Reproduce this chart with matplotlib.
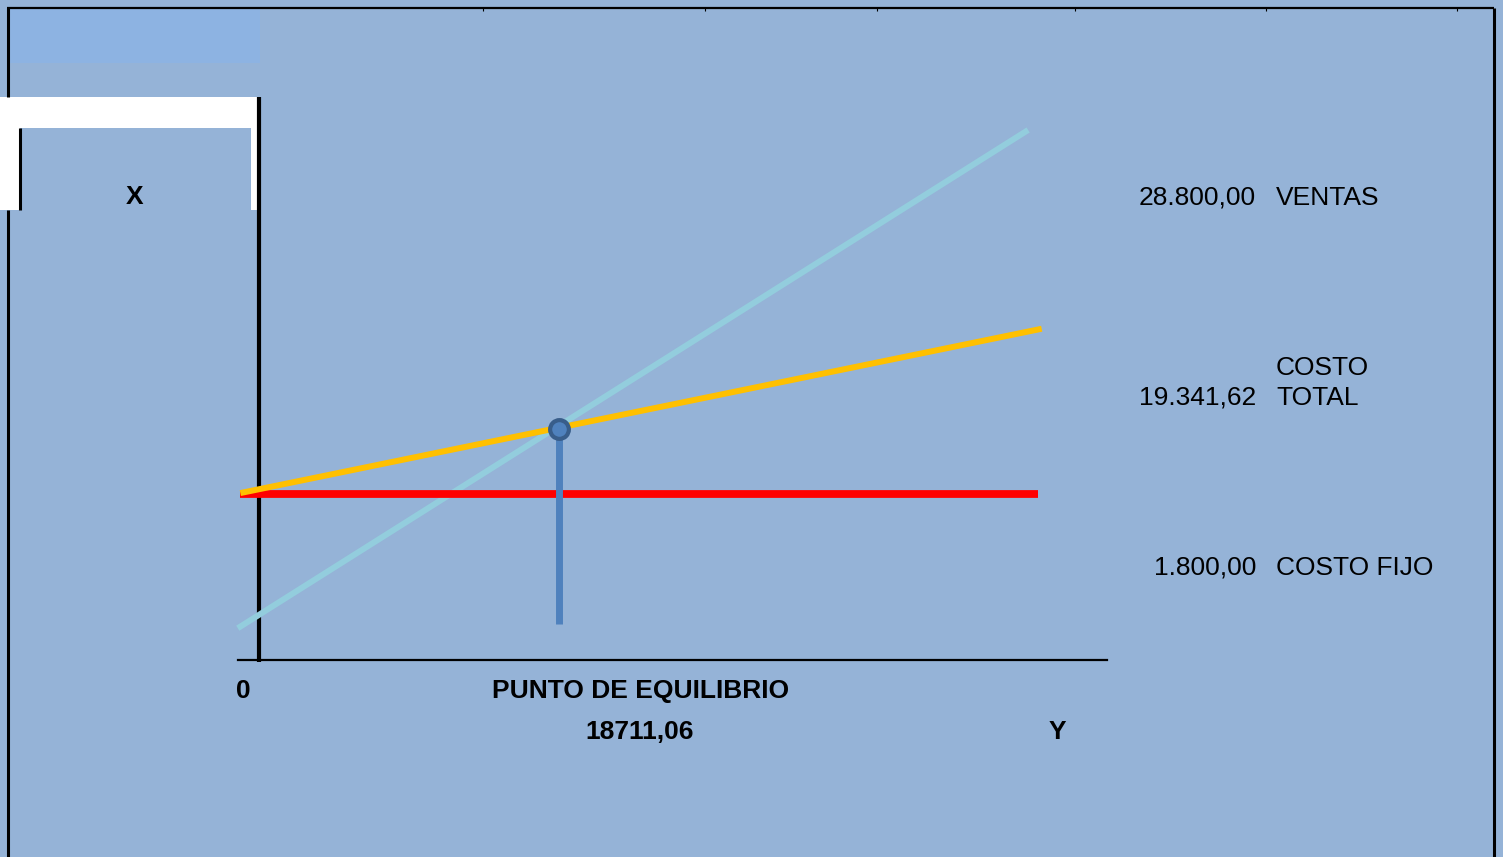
import matplotlib
matplotlib.use("Agg")
import matplotlib.pyplot as plt
from matplotlib.patches import Rectangle
from matplotlib.lines import Line2D

W, H = 1503, 857

# lines of the break-even diagram (schematic units: quantity 0-100, amount 0-100)
ventas_x = [-2.5, 90.7]
ventas_y = [6.0, 100.0]
costo_total_x = [-2.2, 92.3]
costo_total_y = [31.5, 62.5]
costo_fijo_x = [-2.2, 91.9]
costo_fijo_y = [31.3, 31.3]
equilibrio_x = 35.4
equilibrio_y = 43.6
equilibrio_base = 6.8

# labels on the right side
valores = ["28.800,00", "19.341,62", "1.800,00"]
nombres = ["VENTAS", "COSTO\nTOTAL", "COSTO FIJO"]
etiqueta_y = [205, 405, 575]   # baseline of the last line, px

punto_equilibrio = "18711,06"

fondo = "#95B3D7"
plt.rcParams["font.family"] = ["Liberation Sans", "DejaVu Sans"]


def fx(px):
    return px / W


def fy(py):
    return 1 - py / H


fig = plt.figure(figsize=(W / 100, H / 100), dpi=100, facecolor=fondo)


def rect(x0, y0, x1, y1, color):
    fig.add_artist(Rectangle((fx(x0), fy(y1)), fx(x1) - fx(x0), fy(y0) - fy(y1),
                             transform=fig.transFigure, facecolor=color,
                             edgecolor="none", zorder=0))


def seg(x0, y0, x1, y1, lw):
    fig.add_artist(Line2D([fx(x0), fx(x1)], [fy(y0), fy(y1)], transform=fig.transFigure,
                          color="black", lw=lw, solid_capstyle="butt", zorder=1))


# frame and header blocks
rect(8, 8, 260, 63, "#8DB3E2")
rect(0, 97, 258, 210, "white")
rect(20, 128, 251, 210, fondo)
seg(7, 8, 1494, 8, 1.6)
seg(8, 8, 8, 97, 2.2)
seg(8, 210, 8, 857, 2.2)
seg(1494, 8, 1494, 857, 2.2)
seg(20, 128, 20, 210, 2.2)
for tx in [483, 705, 877, 1075, 1266, 1457]:
    seg(tx, 8, tx, 11, 0.8)

# plotting area: origin at (259, 660) px
x0_px, y0_px, x1_px, y1_px = 259, 660, 1107, 130
ax = fig.add_axes([fx(x0_px), fy(y0_px), fx(x1_px) - fx(x0_px), fy(y1_px) - fy(y0_px)])
ax.set_xlim(0, 100)
ax.set_ylim(0, 100)
ax.axis("off")

ax.plot([-2.5, 100], [0, 0], color="black", lw=1.6, clip_on=False, zorder=1)
ax.plot([0, 0], [-0.4, 106.2], color="black", lw=3.0, clip_on=False, zorder=1,
        solid_capstyle="butt")

ax.plot(ventas_x, ventas_y, color="#93CDDD", lw=4.3, clip_on=False, zorder=2,
        solid_capstyle="butt")
ax.plot(costo_fijo_x, costo_fijo_y, color="#FF0000", lw=5.6, clip_on=False, zorder=3,
        solid_capstyle="butt")
ax.plot(costo_total_x, costo_total_y, color="#FFC000", lw=4.3, clip_on=False, zorder=4,
        solid_capstyle="butt")
ax.plot([equilibrio_x, equilibrio_x], [equilibrio_base, equilibrio_y], color="#4F81BD",
        lw=5.0, clip_on=False, zorder=5, solid_capstyle="butt")
ax.plot([equilibrio_x], [equilibrio_y], marker="o", ms=13.5, mfc="#4F81BD",
        mec="#385D8A", mew=3.0, clip_on=False, zorder=6)

# text
bold = dict(fontsize=19, fontweight="bold", ha="center", va="baseline")
fig.text(fx(135), fy(204), "X", **bold)
fig.text(fx(243), fy(698), "0", **bold)
fig.text(fx(641), fy(698), "PUNTO DE EQUILIBRIO", **bold)
fig.text(fx(640), fy(739), punto_equilibrio, **bold)
fig.text(fx(1057), fy(739), "Y", **bold)

for valor, nombre, yb in zip(valores, nombres, etiqueta_y):
    fig.text(fx(1256), fy(yb), valor, fontsize=19, ha="right", va="baseline")
    lineas = nombre.split("\n")
    for i, linea in enumerate(lineas):
        fig.text(fx(1276), fy(yb - 30 * (len(lineas) - 1 - i)), linea,
                 fontsize=19, ha="left", va="baseline")

fig.savefig("out.png", dpi=100, facecolor=fondo)
